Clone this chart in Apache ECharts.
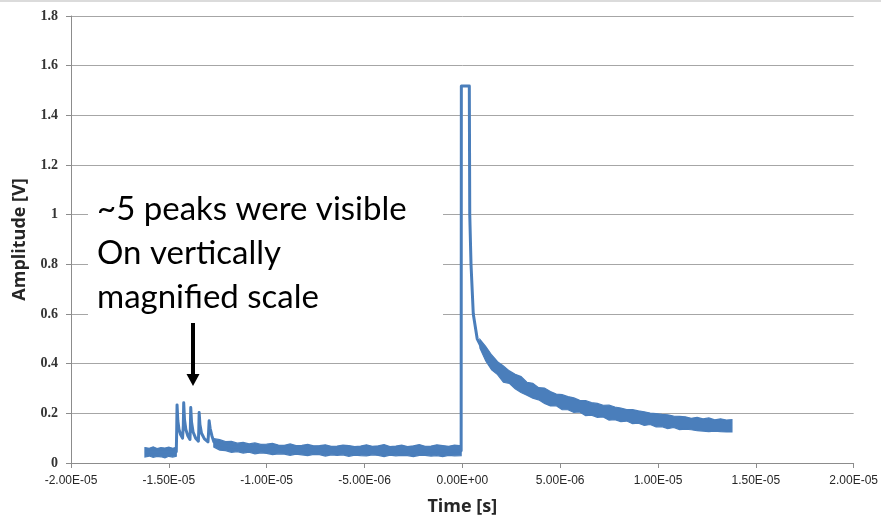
<!DOCTYPE html>
<html>
<head>
<meta charset="utf-8">
<script src="https://cdn.jsdelivr.net/npm/echarts@6/dist/echarts.min.js"></script>
<style>html,body{margin:0;padding:0;background:#fff}#c{width:881px;height:521px}</style>
</head>
<body>
<div id="c"></div>
<script>
// ---- data (time in microseconds, amplitude in volts) ----
const xTicks = [-20, -15, -10, -5, 0, 5, 10, 15, 20];
const yTicks = [0, 0.2, 0.4, 0.6, 0.8, 1, 1.2, 1.4, 1.6, 1.8];

// main trace: baseline, ~5 small peaks, saturated pulse, start of decay
const traceT = [-16.22, -14.62, -14.60, -14.58, -14.54, -14.48, -14.40, -14.30, -14.26, -14.24, -14.20, -14.13, -14.03, -13.92, -13.90, -13.88, -13.84, -13.76, -13.63, -13.49, -13.47, -13.45, -13.41, -13.33, -13.18, -13.00, -12.97, -12.94, -12.89, -12.80, -12.70, -12.40, -12.10, -11.5, -10.0, -8.0, -6.0, -4.0, -2.0, -0.06, -0.05, 0.357, 0.38, 0.444, 0.56, 0.76, 1.02, 1.2];
const traceV = [0.045, 0.045, 0.12, 0.234, 0.17, 0.135, 0.115, 0.10, 0.15, 0.243, 0.175, 0.135, 0.11, 0.095, 0.14, 0.223, 0.165, 0.125, 0.10, 0.088, 0.13, 0.203, 0.155, 0.12, 0.097, 0.085, 0.12, 0.17, 0.14, 0.11, 0.085, 0.075, 0.068, 0.063, 0.057, 0.052, 0.050, 0.050, 0.049, 0.049, 1.518, 1.518, 1.0, 0.8, 0.6, 0.5, 0.46, 0.44];

// noise band before the peaks
const preT  = [-16.22, -16.0, -15.8, -15.6, -15.4, -15.2, -15.0, -14.8, -14.62];
const preLo = [0.024, 0.028, 0.023, 0.027, 0.025, 0.021, 0.027, 0.024, 0.027];
const preHi = [0.062, 0.059, 0.065, 0.058, 0.062, 0.060, 0.064, 0.059, 0.063];

// noise band after the peaks, up to the pulse
const postT  = [-12.7,-12.4,-12.1,-11.8,-11.5,-11.2,-10.9,-10.6,-10.3,-10.0,-9.7,-9.4,-9.1,-8.8,-8.5,-8.2,-7.9,-7.6,-7.3,-7.0,-6.7,-6.4,-6.1,-5.8,-5.5,-5.2,-4.9,-4.6,-4.3,-4.0,-3.7,-3.4,-3.1,-2.8,-2.5,-2.2,-1.9,-1.6,-1.3,-1.0,-0.7,-0.4,-0.06];
const postLo = [0.064,0.052,0.050,0.043,0.046,0.040,0.044,0.037,0.041,0.039,0.034,0.037,0.036,0.031,0.036,0.033,0.030,0.035,0.034,0.028,0.033,0.031,0.033,0.027,0.032,0.030,0.029,0.033,0.031,0.026,0.032,0.029,0.031,0.030,0.026,0.031,0.031,0.028,0.030,0.026,0.031,0.029,0.030];
const postHi = [0.098,0.094,0.086,0.087,0.080,0.083,0.077,0.081,0.075,0.076,0.079,0.072,0.071,0.077,0.070,0.071,0.075,0.069,0.070,0.073,0.067,0.068,0.072,0.070,0.066,0.068,0.073,0.067,0.069,0.074,0.066,0.068,0.072,0.066,0.069,0.074,0.067,0.068,0.073,0.070,0.067,0.072,0.069];

// decaying tail after the pulse (band centre and band width)
const tailT = [0.9,1.2,1.5,1.8,2.1,2.4,2.7,3.0,3.3,3.6,3.9,4.2,4.5,4.8,5.1,5.4,5.7,6.0,6.3,6.6,6.9,7.2,7.5,7.8,8.1,8.4,8.7,9.0,9.3,9.6,9.9,10.2,10.5,10.8,11.1,11.4,11.7,12.0,12.3,12.6,12.9,13.2,13.5,13.78];
const tailMid = [0.48,0.44,0.405,0.382,0.358,0.346,0.328,0.316,0.299,0.291,0.279,0.271,0.259,0.254,0.245,0.241,0.233,0.229,0.221,0.218,0.212,0.209,0.203,0.200,0.194,0.192,0.187,0.185,0.179,0.178,0.172,0.171,0.166,0.166,0.161,0.161,0.157,0.157,0.153,0.154,0.151,0.152,0.149,0.150];
const tailSpread = [0.035,0.058,0.06,0.052,0.066,0.05,0.058,0.064,0.052,0.06,0.049,0.062,0.058,0.047,0.06,0.053,0.058,0.047,0.061,0.05,0.056,0.047,0.06,0.051,0.055,0.046,0.057,0.05,0.055,0.046,0.054,0.049,0.056,0.045,0.053,0.05,0.046,0.054,0.049,0.055,0.046,0.052,0.048,0.05];

// ---- chart ----
const BLUE = '#4A7EBB';
const tailLo = tailMid.map((m, i) => m - tailSpread[i] / 2);
const tailHi = tailMid.map((m, i) => m + tailSpread[i] / 2);

function fmtSci(v) {
  let s = (v * 1e-6).toExponential(2).toUpperCase();
  return s.replace(/E([+-])(\d)$/, 'E$10$2');
}

function band(ts, lo, hi) {
  return {
    type: 'custom',
    silent: true,
    data: ts.map((t, i) => [t, lo[i], hi[i]]),
    encode: { x: 0, y: [1, 2] },
    renderItem: function (params, api) {
      if (params.dataIndex !== 0) return null;
      const top = ts.map((t, i) => api.coord([t, hi[i]]));
      const bot = ts.map((t, i) => api.coord([t, lo[i]])).reverse();
      return {
        type: 'polygon',
        shape: { points: top.concat(bot) },
        style: { fill: BLUE, stroke: BLUE, lineWidth: 1.2, lineJoin: 'miter' }
      };
    }
  };
}

const chart = echarts.init(document.getElementById('c'), null, { renderer: 'canvas' });
chart.setOption({
  animation: false,
  backgroundColor: '#fff',
  grid: { left: 71, right: 26, top: 16, bottom: 58 },
  xAxis: {
    type: 'value', min: xTicks[0], max: xTicks[xTicks.length - 1], interval: 5,
    name: 'Time [s]', nameLocation: 'middle', nameGap: 35,
    nameTextStyle: { fontFamily: 'Open Sans', fontWeight: 'bold', fontSize: 18, color: '#262626' },
    axisLine: { show: true, onZero: false, lineStyle: { color: '#8c8c8c', width: 1 } },
    axisTick: { show: true, length: 5, lineStyle: { color: '#8c8c8c' } },
    axisLabel: { margin: 12, fontFamily: 'Liberation Sans', fontSize: 12, color: '#262626', formatter: fmtSci },
    splitLine: { show: false }
  },
  yAxis: {
    type: 'value', min: yTicks[0], max: yTicks[yTicks.length - 1], interval: 0.2,
    name: 'Amplitude [V]', nameLocation: 'middle', nameGap: 42,
    nameTextStyle: { fontFamily: 'Open Sans', fontWeight: 'bold', fontSize: 18, color: '#262626' },
    axisLine: { show: true, onZero: false, lineStyle: { color: '#8c8c8c', width: 1 } },
    axisTick: { show: true, length: 5, lineStyle: { color: '#8c8c8c' } },
    axisLabel: { margin: 13, fontFamily: 'Liberation Serif', fontWeight: 'bold', fontSize: 14, color: '#333',
      formatter: v => String(+v.toFixed(1)) },
    splitLine: { show: true, lineStyle: { color: '#a6a6a6', width: 1 } }
  },
  series: [
    band(preT, preLo, preHi),
    band(postT, postLo, postHi),
    band(tailT, tailLo, tailHi),
    {
      type: 'line', silent: true, symbol: 'none',
      data: traceT.map((t, i) => [t, traceV[i]]),
      lineStyle: { color: BLUE, width: 3, join: 'round' }
    }
  ],
  graphic: [
    { type: 'line', z: 100, shape: { x1: 0, y1: 1, x2: 881, y2: 1 }, style: { stroke: '#cfcfcf', lineWidth: 1.5 } },
    { type: 'rect', z: 100, left: 88, top: 183, shape: { width: 355, height: 137 }, style: { fill: '#fff' } },
    { type: 'text', z: 101, left: 97, top: 187,
      style: { text: '~5 peaks were visible\nOn vertically\nmagnified scale', fontFamily: 'Lato', fontSize: 33, lineHeight: 44, fill: '#000' } },
    { type: 'rect', z: 101, left: 191, top: 323, shape: { width: 4, height: 53 }, style: { fill: '#000' } },
    { type: 'polygon', z: 101, shape: { points: [[186.5, 374], [199.5, 374], [193, 386]] }, style: { fill: '#000' } }
  ]
});
</script>
</body>
</html>
